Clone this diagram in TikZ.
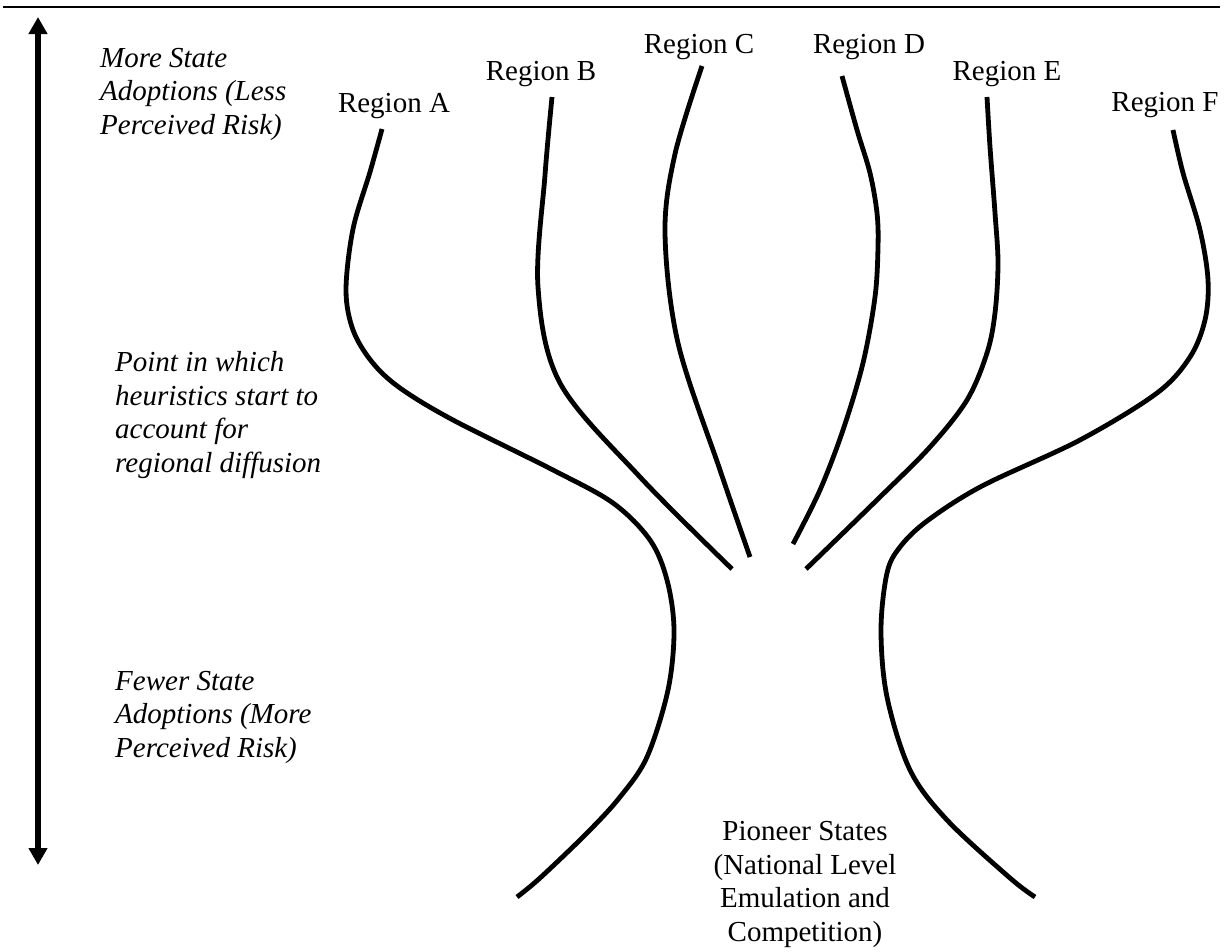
\documentclass[tikz,border=0pt]{standalone}
\usepackage{fontspec}
\setmainfont{Liberation Serif}
\usetikzlibrary{arrows.meta}
\tikzset{scaletip/.tip={Triangle[width=18pt,length=17pt]}}
\begin{document}
\begin{tikzpicture}[x=1pt,y=-1pt,
  branch/.style={line width=4.8pt, black},
  regionlbl/.style={font=\fontsize{29}{33.4}\selectfont, inner sep=0pt, anchor=base},
  sidenote/.style={font=\fontsize{29}{33.4}\selectfont\itshape, inner sep=0pt, align=left, anchor=base west},
  rootlbl/.style={font=\fontsize{29}{33.4}\selectfont, inner sep=0pt, align=center, anchor=base},
]
\useasboundingbox (0,0) rectangle (1231,951);

% rule across the top
\coordinate (ruleL) at (3,7);
\coordinate (ruleR) at (1220,7);
\draw[line width=2pt] (ruleL) -- (ruleR);

% risk scale
\coordinate (scaleTop) at (38,17);
\coordinate (scaleBot) at (38,865);
\draw[line width=5.5pt, scaletip-scaletip] (scaleTop) -- (scaleBot);

% side notes (base anchor sits on the last line)
\node[sidenote] (more) at (100,134) {More State\\Adoptions (Less\\Perceived Risk)};
\node[sidenote] (point) at (115,472) {Point in which\\heuristics start to\\account for\\regional diffusion};
\node[sidenote] (fewer) at (115,757) {Fewer State\\Adoptions (More\\Perceived Risk)};

% region labels
\node[regionlbl] (rA) at (394,112) {Region A};
\node[regionlbl] (rB) at (541,80) {Region B};
\node[regionlbl] (rC) at (699,53) {Region C};
\node[regionlbl] (rD) at (869,53) {Region D};
\node[regionlbl] (rE) at (1007,80) {Region E};
\node[regionlbl] (rF) at (1165,111) {Region F};

% root label
\node[rootlbl] (pioneer) at (805,941) {Pioneer States\\(National Level\\Emulation and\\Competition)};

% trunk and branches
\draw[branch] plot[smooth, tension=0.55] coordinates {
  (382,129) (370,172) (353,229) (346,290) (353,330) (372,362) (400,388)
  (453,420) (553,470) (613,503) (650,540) (667,580) (674,630) (668,690)
  (647,757) (620,797) (587,833) (540,878) (517,897)};
\draw[branch] plot[smooth, tension=0.55] coordinates {
  (552,97) (545,175) (538,287) (560,383) (640,477) (732,569)};
\draw[branch] plot[smooth, tension=0.55] coordinates {
  (702,66) (675,154) (665,233) (678,343) (720,470) (750,557)};
\draw[branch] plot[smooth, tension=0.55] coordinates {
  (842,76) (857,130) (870,173) (877,213) (878,247) (875,297) (863,363)
  (843,430) (820,490) (793,544)};
\draw[branch] plot[smooth, tension=0.55] coordinates {
  (987,97) (990,147) (995,213) (998,263) (995,313) (987,353) (967,400)
  (930,447) (880,497) (806,569)};
\draw[branch] plot[smooth, tension=0.55] coordinates {
  (1173,130) (1183,173) (1200,230) (1208,280) (1205,320) (1190,357)
  (1157,393) (1080,440) (982,486) (927,521) (900,547) (887,573) (881,630)
  (887,697) (910,770) (947,820) (1010,878) (1035,897)};
\end{tikzpicture}
\end{document}
